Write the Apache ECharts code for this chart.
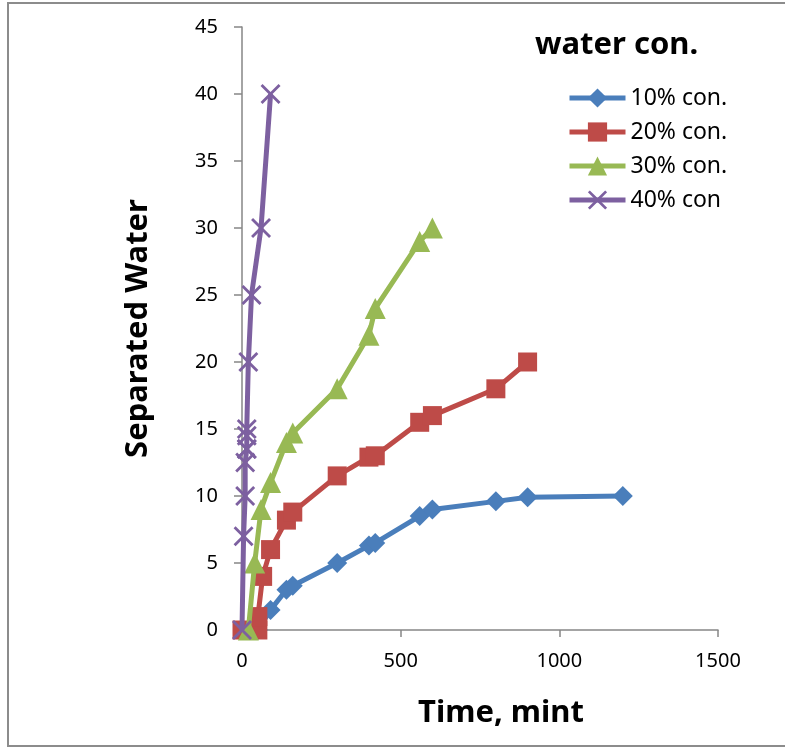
<!DOCTYPE html>
<html>
<head>
<meta charset="utf-8">
<script src="https://cdn.jsdelivr.net/npm/echarts@6/dist/echarts.min.js"></script>
<style>html,body{margin:0;padding:0;background:#fff}#c{width:785px;height:747px}</style>
</head>
<body>
<div id="c"></div>
<script>
var seriesNames = ['10% con.', '20% con.', '30% con.', '40% con'];
var t10 = [50, 90, 140, 160, 300, 400, 420, 560, 600, 800, 900, 1200];
var v10 = [0, 1.5, 3, 3.3, 5, 6.3, 6.5, 8.5, 9, 9.6, 9.9, 10];
var t20 = [0, 50, 50, 65, 90, 140, 160, 300, 400, 420, 560, 600, 800, 900];
var v20 = [0, 0, 1, 4, 6, 8.2, 8.8, 11.5, 12.9, 13, 15.5, 16, 18, 20];
var t30 = [20, 40, 60, 90, 140, 160, 300, 400, 420, 560, 600];
var v30 = [0, 5, 9, 11, 14, 14.7, 18, 22, 24, 29, 30];
var t40 = [0, 5, 10, 10, 15, 15, 15, 15, 20, 30, 60, 90];
var v40 = [0, 7, 10, 12.5, 13.5, 13.5, 14.5, 15, 20, 25, 30, 40];
var xTicks = [0, 500, 1000, 1500];
var yTicks = [0, 5, 10, 15, 20, 25, 30, 35, 40, 45];

function pairs(t, v) { return t.map(function (x, i) { return [x, v[i]]; }); }

var colors = ['#4A7EBB', '#BE4B48', '#98B954', '#7D60A0'];
var xPath = 'path://M0,1 L1,0 L5,4 L9,0 L10,1 L6,5 L10,9 L9,10 L5,6 L1,10 L0,9 L4,5 Z';
var symbols = ['diamond', 'rect', 'triangle', xPath];
var sizes = [20, 19, 21, 20];
var datasets = [pairs(t10, v10), pairs(t20, v20), pairs(t30, v30), pairs(t40, v40)];

var chart = echarts.init(document.getElementById('c'), null, {renderer: 'canvas'});
var font = '"Noto Sans", "Open Sans", sans-serif';
var option = {
  animation: false,
  color: colors,
  textStyle: {fontFamily: font},
  title: {
    text: 'water con.', left: 535, top: 30, padding: 0,
    textStyle: {fontSize: 31, fontWeight: 'bold', color: '#000', fontFamily: font}
  },
  legend: {
    orient: 'vertical', left: 567, top: 82, padding: 0,
    itemWidth: 56, itemHeight: 24, itemGap: 2,
    data: seriesNames,
    lineStyle: {width: 5},
    textStyle: {fontSize: 23, color: '#000', fontFamily: font, lineHeight: 32}
  },
  grid: {left: 242, right: 67, top: 27, bottom: 117, containLabel: false},
  xAxis: {
    type: 'value', min: 0, max: 1500, interval: 500,
    axisLine: {show: true, lineStyle: {color: '#868686', width: 1.5}},
    axisTick: {show: true, inside: false, length: 7, lineStyle: {color: '#868686', width: 1.5}},
    axisLabel: {fontSize: 20, color: '#000', margin: 21, fontFamily: font,
      formatter: function (v) { return xTicks.indexOf(v) >= 0 ? String(v) : ''; }},
    splitLine: {show: false}
  },
  yAxis: {
    type: 'value', min: 0, max: 45, interval: 5,
    name: 'Separated Water', nameLocation: 'middle', nameGap: 88, nameRotate: 90,
    nameTextStyle: {fontSize: 31, fontWeight: 'bold', color: '#000', fontFamily: font},
    axisLine: {show: true, lineStyle: {color: '#868686', width: 1.5}},
    axisTick: {show: true, inside: false, length: 8, lineStyle: {color: '#868686', width: 1.5}},
    axisLabel: {fontSize: 20, color: '#000', margin: 24, fontFamily: font,
      formatter: function (v) { return yTicks.indexOf(v) >= 0 ? String(v) : ''; }},
    splitLine: {show: false}
  },
  graphic: [
    {type: 'rect', shape: {x: 8, y: 3, width: 800, height: 743}, style: {fill: 'none', stroke: '#8c8c8c', lineWidth: 2}, silent: true, z: -1},
    {type: 'text', left: 418, top: 698, style: {text: 'Time, mint', fontSize: 31, fontWeight: 'bold', fill: '#000', fontFamily: font}}
  ],
  series: seriesNames.map(function (n, i) {
    return {
      name: n, type: 'line', data: datasets[i],
      symbol: symbols[i], symbolSize: sizes[i],
      showSymbol: true,
      lineStyle: {width: 5, color: colors[i]},
      itemStyle: {color: colors[i], opacity: 1},
      z: 2 + i
    };
  })
};
chart.setOption(option);
</script>
</body>
</html>
